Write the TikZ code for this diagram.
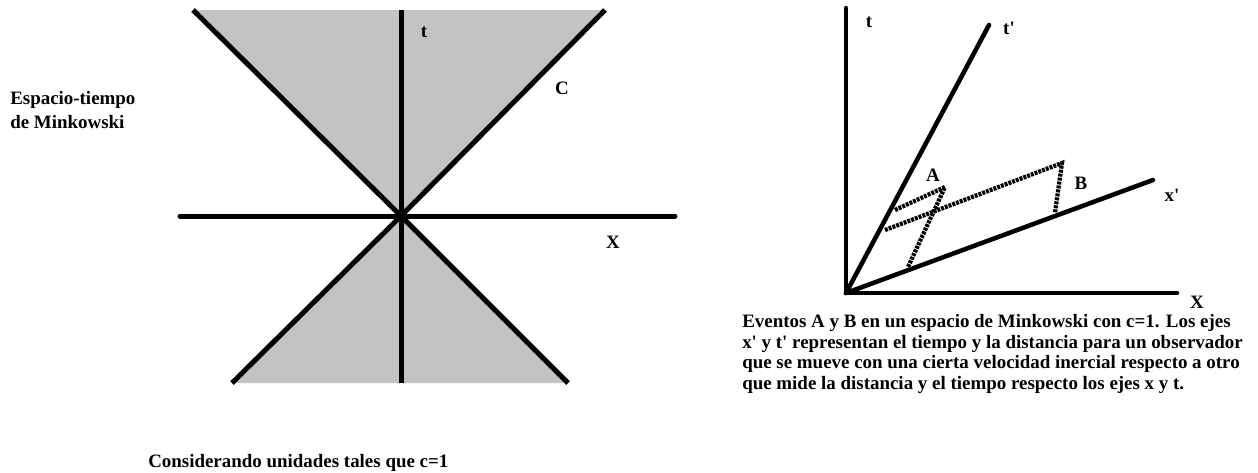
\documentclass[tikz,border=0pt]{standalone}
\usepackage{fontspec}
\setmainfont{Liberation Serif}
\definecolor{conegray}{RGB}{195,195,195}
\newcommand{\apo}{\textquotesingle}
\begin{document}
\begin{tikzpicture}[x=0.75pt,y=-0.75pt,
  axis/.style={line width=3.75pt, line cap=round},
  axisb/.style={line width=3.4pt, line cap=round},
  hatch/.style={line width=3.2pt, dash pattern=on 2.2pt off 0.8pt},
  lbl/.style={font=\bfseries\fontsize{14.2}{15.6}\selectfont, inner sep=0pt}]
\useasboundingbox (0,0) rectangle (1258,472);
% ---------- left: light cone ----------
\coordinate (O) at (401,216);
\coordinate (ul) at (193,10);
\coordinate (ur) at (605,10);
\coordinate (ll) at (232,383);
\coordinate (lr) at (568,383);
\coordinate (tt) at (401,10);
\coordinate (tb) at (401,383);
\coordinate (xl) at (180,216);
\coordinate (xr) at (675,216);
\fill[conegray] (ul) -- (ur) -- (O) -- cycle;
\fill[conegray] (ll) -- (lr) -- (O) -- cycle;
\draw[line width=3.75pt] (ul) -- (O) -- (lr);
\draw[line width=3.75pt] (ur) -- (O) -- (ll);
\draw[line width=3.75pt] (tt) -- (tb);
\draw[axis] (xl) -- (xr);
\node[lbl] (lt) at (424,32) {t};
\node[lbl] (lc) at (562,88) {C};
\node[lbl] (lx) at (613,242) {X};
\node[lbl, anchor=west, align=left, font=\bfseries\fontsize{14.2}{17.5}\selectfont] (title) at (10,110) {Espacio-tiempo\\de Minkowski};
\node[lbl, anchor=west] (units) at (148,463) {Considerando unidades tales que c=1};
% ---------- right: boosted frame ----------
\coordinate (R) at (846,293);
\coordinate (Rt) at (846,8);
\coordinate (Rx) at (1177,293);
\coordinate (Rtp) at (989,25);
\coordinate (Rxp) at (1153,180);
\draw[axisb] (Rt) -- (R) -- (Rx);
\draw[axisb] (R) -- (Rtp);
\draw[axisb] (R) -- (Rxp);
\coordinate (A) at (945,187);
\coordinate (B) at (1062,163);
\coordinate (At) at (895,210);
\coordinate (Ax) at (908,267);
\coordinate (Bt) at (885,230);
\coordinate (Bx) at (1055,213);
\draw[hatch] (At) -- (A) -- (Ax);
\draw[hatch] (Bt) -- (B) -- (Bx);
\node[lbl] (rt) at (869,22) {t};
\node[lbl] (rtp) at (1009,28) {t\apo};
\node[lbl] (rA) at (933,175) {A};
\node[lbl] (rB) at (1081,183) {B};
\node[lbl] (rxp) at (1172,195) {x\apo};
\node[lbl] (rX) at (1197,302) {X};
\node[lbl, anchor=west, align=left] (cap) at (742,354) {Eventos A y B en un espacio de Minkowski con c=1. Los ejes\\x\apo{} y t\apo{} representan el tiempo y la distancia para un observador\\que se mueve con una cierta velocidad inercial respecto a otro\\que mide la distancia y el tiempo respecto los ejes x y t.};
\end{tikzpicture}
\end{document}
